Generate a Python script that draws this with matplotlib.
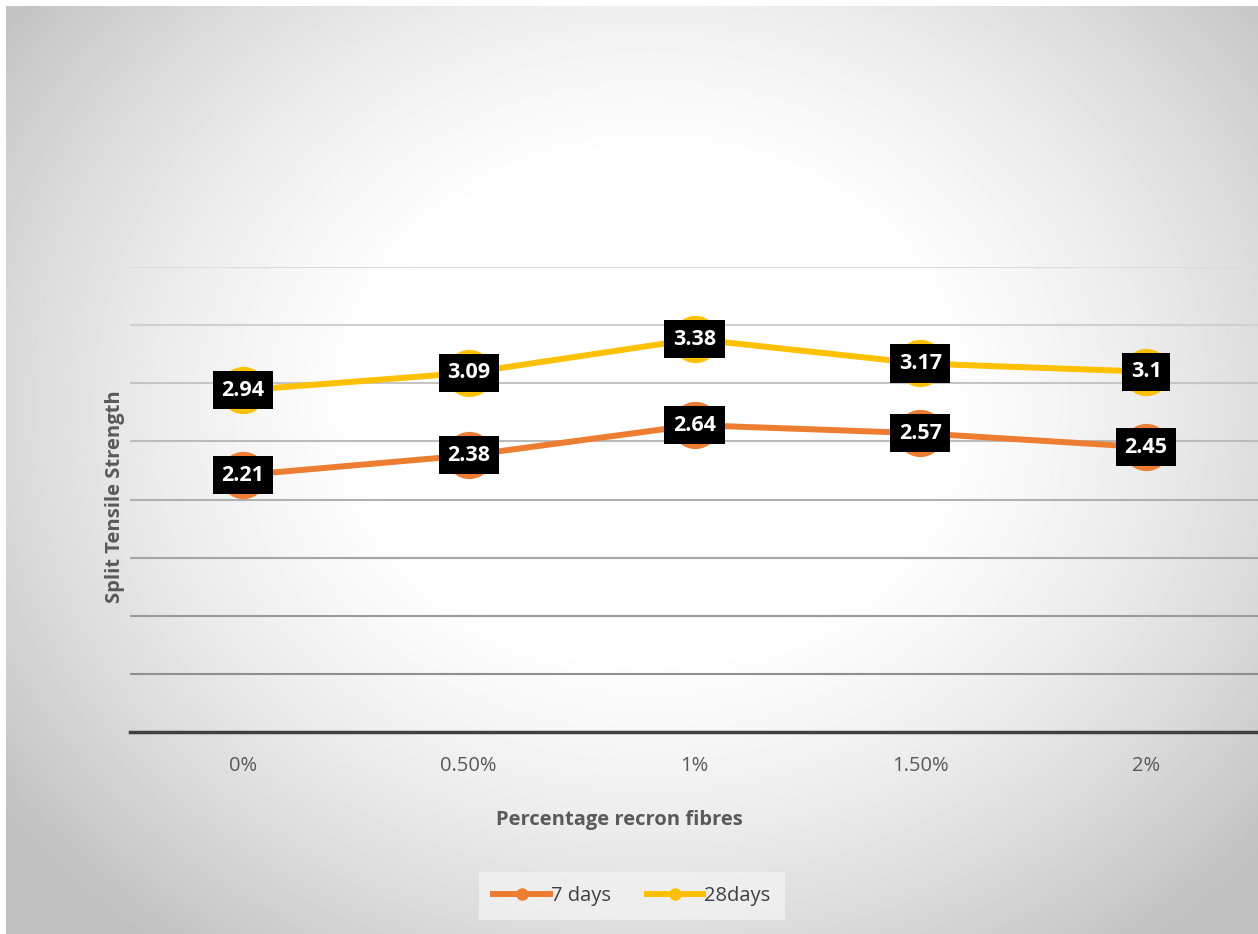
import matplotlib
matplotlib.use("Agg")
import matplotlib.pyplot as plt
from matplotlib.lines import Line2D
import numpy as np

# -------------------------------------------------
# Data
# -------------------------------------------------
categories = ["0%", "0.50%", "1%", "1.50%", "2%"]
days7 = [2.21, 2.38, 2.64, 2.57, 2.45]
days28 = [2.94, 3.09, 3.38, 3.17, 3.1]
labels7 = ["2.21", "2.38", "2.64", "2.57", "2.45"]
labels28 = ["2.94", "3.09", "3.38", "3.17", "3.1"]

orange = "#ED7D31"
yellow = "#FFC000"
text_gray = "#595959"

plt.rcParams["font.family"] = ["Open Sans", "DejaVu Sans"]

W, H = 1258, 934
fig = plt.figure(figsize=(W / 100, H / 100), dpi=100, facecolor="white")

# -------------------------------------------------
# radial gradient background (chart area)
# -------------------------------------------------
x0, y0 = 6, 6
bg = fig.add_axes([x0 / W, 0, (W - x0) / W, (H - y0) / H])
bg.set_axis_off()
yy, xx = np.mgrid[0:H - y0, 0:W - x0]
cx, cy = 645, 400
r = np.sqrt(((xx - cx) / 1.0) ** 2 + ((yy - cy) / 0.85) ** 2)
t = np.clip((r - 260) / (800 - 260), 0, 1)
val = (255 - 62 * t ** 1.4) / 255
bg.imshow(val, cmap="gray", vmin=0, vmax=1, aspect="auto",
          extent=[0, 1, 0, 1], origin="upper")
bg.set_xlim(0, 1)
bg.set_ylim(0, 1)

# -------------------------------------------------
# plot area
# -------------------------------------------------
left, right = 130, 1259
top, bottom = 267, 732
ax = fig.add_axes([left / W, (H - bottom) / H, (right - left) / W, (bottom - top) / H])
ax.patch.set_alpha(0)

x = np.arange(len(categories))
ax.plot(x, days7, color=orange, lw=4.3, marker="o", ms=33, zorder=3,
        solid_capstyle="round")
ax.plot(x, days28, color=yellow, lw=4.3, marker="o", ms=33, zorder=3,
        solid_capstyle="round")

for xi, v, s in zip(x, days7, labels7):
    ax.text(xi, v, s, ha="center", va="center", color="white", fontsize=15.5,
            fontweight="bold", zorder=5,
            bbox=dict(boxstyle="square,pad=0.4", fc="black", ec="none"))
for xi, v, s in zip(x, days28, labels28):
    ax.text(xi, v, s, ha="center", va="center", color="white", fontsize=15.5,
            fontweight="bold", zorder=5,
            bbox=dict(boxstyle="square,pad=0.4", fc="black", ec="none"))

ax.set_xlim(-0.5, len(categories) - 0.5)
ax.set_ylim(0, 4)
ax.set_yticks(np.arange(0.5, 4.01, 0.5))
ax.set_yticklabels([])
ax.tick_params(axis="y", length=0)
ax.set_xticks(x)
ax.set_xticklabels(categories, color=text_gray, fontsize=14.5)
ax.tick_params(axis="x", length=0, pad=17)
ax.grid(axis="y", lw=1.5, zorder=0)
ax.set_axisbelow(True)
# gridlines darker toward the bottom, like the reference
grid_lines = ax.yaxis.get_gridlines()
for i, gl in enumerate(grid_lines):
    g = 0.56 + (0.86 - 0.56) * i / max(len(grid_lines) - 1, 1)
    gl.set_color((g, g, g))
for side in ["top", "right", "left"]:
    ax.spines[side].set_visible(False)
ax.spines["bottom"].set_color("#404040")
ax.spines["bottom"].set_linewidth(2.5)

ax.set_xlabel("Percentage recron fibres", color=text_gray, fontsize=14.5,
              fontweight="bold")
ax.set_ylabel("Split Tensile Strength", color=text_gray, fontsize=14.5,
              fontweight="bold")
fig_to_ax = fig.transFigure
ax.xaxis.set_label_coords(619 / W, (H - 820) / H, transform=fig_to_ax)
ax.xaxis.label.set_va("center")
ax.yaxis.set_label_coords(115 / W, (H - 497) / H, transform=fig_to_ax)
ax.yaxis.label.set_va("center")

# -------------------------------------------------
# legend
# -------------------------------------------------
handles = [
    Line2D([], [], color=orange, lw=4.3, marker="o", ms=8),
    Line2D([], [], color=yellow, lw=4.3, marker="o", ms=8),
]
leg = fig.legend(handles, ["7 days", "28days"], loc="center",
                 bbox_to_anchor=(632 / W, (H - 896) / H), ncol=2,
                 frameon=True, fancybox=False, fontsize=14.5,
                 handlelength=2.8, handletextpad=0.05, columnspacing=1.8,
                 borderpad=0.7, borderaxespad=0)
leg.get_frame().set_facecolor("#f2f2f2")
leg.get_frame().set_edgecolor("none")
leg.get_frame().set_alpha(0.8)
for txt in leg.get_texts():
    txt.set_color("#404040")

fig.savefig("out.png", dpi=100, facecolor="white")
